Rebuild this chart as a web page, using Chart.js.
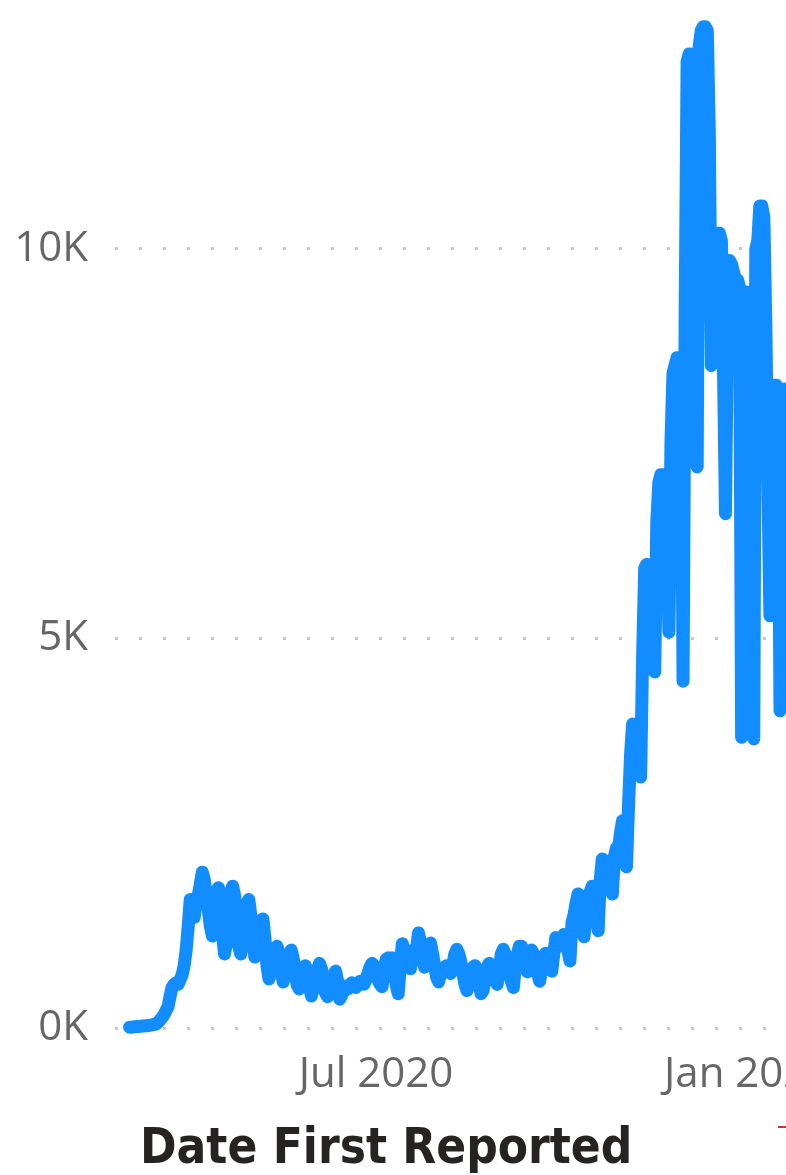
<!DOCTYPE html>
<html>
<head>
<meta charset="utf-8">
<title>Date First Reported</title>
<script src="https://cdn.jsdelivr.net/npm/chart.js@4.4.1/dist/chart.umd.min.js"></script>
<style>
  html, body { margin: 0; padding: 0; background: #ffffff; }
  body { width: 786px; height: 1175px; overflow: hidden; position: relative; }
  #wrap { position: absolute; left: 0; top: 0; width: 900px; height: 1100px; }
  #axisTitle {
    position: absolute; left: 140px; top: 1117px;
    font-family: "DejaVu Sans Condensed", "DejaVu Sans", sans-serif;
    font-weight: bold;
    font-size: 49px; color: #252423; white-space: nowrap; line-height: 60px;
  }
  #mark { position: absolute; left: 778px; top: 1126px; width: 8px; height: 2px; background: #d0302a; }
</style>
</head>
<body>
<div id="wrap"><canvas id="c" width="900" height="1100"></canvas></div>
<div id="axisTitle">Date First Reported</div>
<div id="mark"></div>
<script>
// Daily counts, one value per day starting on the first day below.
const startDate = '2020-03-01';

const casesMarApr = [
  10, 10, 15, 15, 20, 20, 25, 25, 30, 30, 35, 40, 45, 50,
  70, 100, 130, 170, 220, 270, 400, 520, 560, 580, 560, 620, 680, 800,
  1000, 1300, 1650, 1600, 1420, 1650, 1700, 1850, 2000, 1900, 1700, 1500, 1300, 1180,
  1500, 1750, 1800, 1650, 1200, 950, 1100, 1500, 1750, 1820, 1700, 1400, 1050, 950,
  1200, 1500, 1600, 1650, 1450, 1100, 910, 1050, 1250, 1380, 1400, 1150, 800, 630
];
const casesMayJul = [
  750, 900, 1000, 1050, 950, 750, 590, 700, 850, 950, 1000, 900, 700, 550,
  500, 600, 750, 800, 720, 550, 410, 500, 650, 750, 830, 760, 600, 450,
  400, 480, 600, 680, 730, 600, 370, 420, 480, 540, 500, 520, 580, 560,
  520, 560, 600, 580, 560, 620, 700, 780, 830, 800, 700, 620, 560, 530,
  750, 880, 900, 880, 900, 750, 550, 440, 800, 1080, 1000, 950, 850, 760
];
const casesAugOct = [
  950, 1010, 1000, 1220, 1100, 900, 780, 900, 1050, 1090, 950, 800, 650, 590,
  700, 750, 780, 800, 750, 700, 800, 950, 1010, 950, 850, 700, 560, 480,
  600, 700, 780, 800, 700, 550, 440, 480, 650, 780, 830, 800, 700, 600,
  560, 750, 950, 1010, 950, 850, 700, 600, 520, 800, 950, 1050, 1050, 1000,
  850, 720, 900, 1000, 950, 850, 700, 600, 750, 900, 960, 950, 850, 730,
  950, 1160, 1100, 1050, 1150, 1200, 1100, 1000, 860, 1350, 1450, 1600, 1720, 1700,
  1400, 1170, 1500, 1650, 1750, 1820, 1700, 1400, 1250, 1900, 2170, 2150, 2100, 2000
];
const casesNovJan = [
  1850, 1720, 2200, 2310, 2300, 2500, 2660, 2400, 2070, 2850, 3500, 3900, 3800, 3700,
  3500, 3220, 4800, 5900, 5950, 5900, 5600, 5000, 4570, 6500, 7000, 7100, 7100, 7000,
  6500, 5080, 7500, 8400, 8500, 8600, 8600, 8500, 4450, 9000, 12400, 12500, 12500, 12300,
  12500, 7200, 12600, 12800, 12850, 12850, 12800, 11500, 8500, 9200, 10000, 10200, 10200, 10100,
  8500, 6600, 9000, 9850, 9800, 9700, 9600, 9600, 9500, 3730, 9450, 9450, 9000, 8500,
  6000, 3710, 10000, 10100, 10550, 10550, 10400, 9000, 7000, 5290, 7500, 8250, 8250, 8100,
  4070, 8000, 8200, 8000, 8000, 7500, 7000, 5000, 8000, 7800, 7500, 7200, 6000, 5000
];

const dailyCases = [...casesMarApr, ...casesMayJul, ...casesAugOct, ...casesNovJan];

// x-axis labels and the dates they sit on
const xTickDates = ['2020-07-01', '2021-01-01'];
const xTickLabels = ['Jul 2020', 'Jan 2021'];

// y-axis ticks
const yTickValues = [0, 5000, 10000];
const yTickLabels = ['0K', '5K', '10K'];

const DAY = 86400000;
const t0 = Date.parse(startDate + 'T00:00:00Z');
const dayIndex = s => Math.round((Date.parse(s + 'T00:00:00Z') - t0) / DAY);
const xTickDays = xTickDates.map(dayIndex);

const points = dailyCases.map((v, i) => ({ x: i, y: v }));

const labelFont = { family: '"Open Sans", "Noto Sans", sans-serif', size: 42 };

new Chart(document.getElementById('c'), {
  type: 'line',
  data: {
    datasets: [{
      data: points,
      borderColor: '#118DFF',
      borderWidth: 13,
      borderCapStyle: 'round',
      borderJoinStyle: 'round',
      pointRadius: 0,
      pointHoverRadius: 0,
      tension: 0,
      fill: false,
      clip: 20
    }]
  },
  options: {
    responsive: false,
    animation: false,
    events: [],
    layout: { padding: { top: 15, right: 0, bottom: 0, left: 0 } },
    plugins: { legend: { display: false }, tooltip: { enabled: false } },
    scales: {
      x: {
        type: 'linear',
        min: -7.23,
        max: 381.4,
        grid: { display: false },
        border: { display: false },
        afterBuildTicks: axis => { axis.ticks = xTickDays.map(v => ({ value: v })); },
        afterFit: axis => { axis.height = 72; axis.paddingLeft = 0; axis.paddingRight = 0; },
        ticks: {
          autoSkip: false,
          maxRotation: 0,
          padding: 14,
          color: '#666666',
          font: labelFont,
          callback: v => {
            const k = xTickDays.indexOf(v);
            return k >= 0 ? xTickLabels[k] : null;
          }
        }
      },
      y: {
        min: 0,
        max: 13000,
        afterBuildTicks: axis => { axis.ticks = yTickValues.map(v => ({ value: v })); },
        afterFit: axis => { axis.width = 115; axis.paddingTop = 0; axis.paddingBottom = 0; },
        grid: { color: '#c8c8c8', lineWidth: 3, drawTicks: false },
        border: { display: false, dash: [3, 21] },
        ticks: {
          padding: 27,
          color: '#666666',
          font: labelFont,
          callback: v => {
            const k = yTickValues.indexOf(v);
            return k >= 0 ? yTickLabels[k] : null;
          }
        }
      }
    }
  }
});
</script>
</body>
</html>
